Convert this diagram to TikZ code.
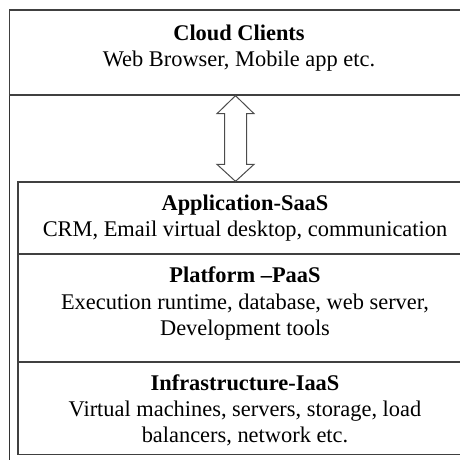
\documentclass[tikz,border=0pt]{standalone}
\usepackage{fontspec}
\setmainfont{Liberation Serif}
\usetikzlibrary{calc}
\begin{document}
\begin{tikzpicture}[x=1pt,y=-1pt,
  frame/.style={draw=black!80,line width=1.3pt},
  layer/.style={draw=black!75,line width=1.3pt,rectangle,inner sep=0pt},
  ttl/.style={anchor=base,font=\fontsize{22.4}{26}\selectfont\bfseries,inner sep=0pt},
  txt/.style={anchor=base,font=\fontsize{22.4}{26}\selectfont,inner sep=0pt},
  arr/.style={draw=black!70,line width=1pt,fill=white,line join=miter}]
\useasboundingbox (0,0) rectangle (460,459);
% outer frame and clients box
\draw[frame] (472,10) -- (9.5,10) -- (9.5,470);
\node[layer,minimum width=462.5pt,minimum height=85pt] (clients) at (240.75,52.5) {};
% inner stack
\node[layer,minimum width=454pt,minimum height=72pt] (saas) at (245,218) {};
\node[layer,minimum width=454pt,minimum height=108pt] (paas) at (245,308) {};
\node[layer,minimum width=454pt,minimum height=92.7pt] (iaas) at (245,408.35) {};
% texts
\node[ttl] (t1) at (239,40) {Cloud Clients};
\node[txt] (s1) at (239,66.7) {Web Browser, Mobile app etc.};
\node[ttl] (t2) at (245,210) {Application-SaaS};
\node[txt] (s2) at (245,236.7) {CRM, Email virtual desktop, communication};
\node[ttl] (t3) at (245,282.7) {Platform –PaaS};
\node[txt] (s3a) at (245,309.3) {Execution runtime, database, web server,};
\node[txt] (s3b) at (245,335) {Development tools};
\node[ttl] (t4) at (245,390) {Infrastructure-IaaS};
\node[txt] (s4a) at (245,416.7) {Virtual machines, servers, storage, load};
\node[txt] (s4b) at (245,442.7) {balancers, network etc.};
% double arrow between clients and saas
\coordinate (tipT) at ($(clients.south)+(-5.25,0)$);
\coordinate (tipB) at ($(saas.north)+(-9.5,0)$);
\draw[arr] (tipT) -- ++(18.5,18) -- ++(-7.5,0) |- ($(tipB)+(11,-17)$) -- ++(7.5,0) -- (tipB)
  -- ++(-18.5,-17) -- ++(7.5,0) |- ($(tipT)+(-11,18)$) -- ++(-7.5,0) -- cycle;
\end{tikzpicture}
\end{document}
